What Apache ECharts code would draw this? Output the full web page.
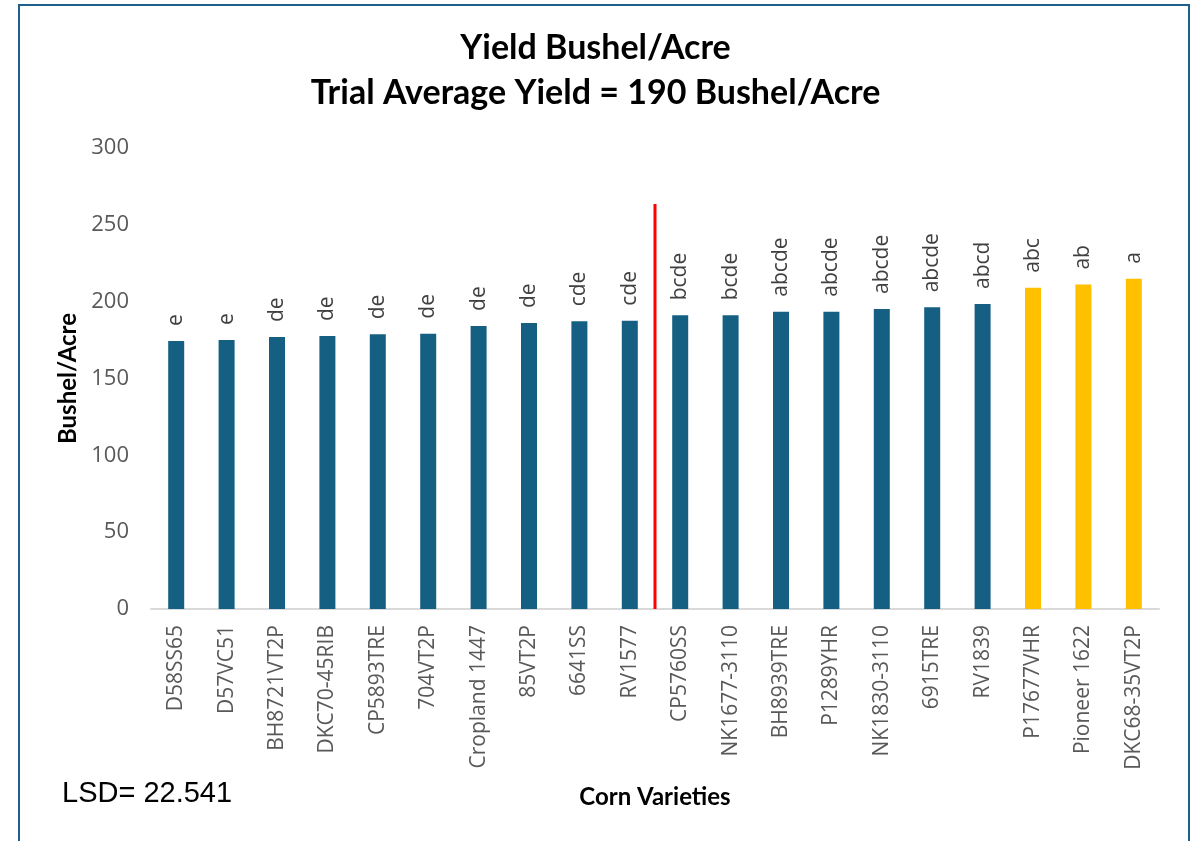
<!DOCTYPE html>
<html>
<head>
<meta charset="utf-8">
<script src="https://cdn.jsdelivr.net/npm/echarts@6/dist/echarts.min.js"></script>
<style>html,body{margin:0;padding:0;background:#fff;}#chart{width:1191px;height:841px;}</style>
</head>
<body>
<div id="chart"></div>
<script>
const categories = ['D58SS65','D57VC51','BH8721VT2P','DKC70-45RIB','CP5893TRE','704VT2P','Cropland 1447','85VT2P','6641SS','RV1577','CP5760SS','NK1677-3110','BH8939TRE','P1289YHR','NK1830-3110','6915TRE','RV1839','P17677VHR','Pioneer 1622','DKC68-35VT2P'];
const yields = [174.4,175.0,177.0,177.6,178.8,179.2,184.2,186.1,187.2,187.6,191.1,191.1,193.5,193.5,195.2,196.3,198.5,209.1,211.1,214.9];
const letters = ['e','e','de','de','de','de','de','de','cde','cde','bcde','bcde','abcde','abcde','abcde','abcde','abcd','abc','ab','a'];
const highlighted = ['P17677VHR','Pioneer 1622','DKC68-35VT2P'];
const separatorLine = [[10,0],[10,263.5]];
const yTicks = {min:0, max:300, interval:50};
const titleLines = ['Yield Bushel/Acre','Trial Average Yield = 190 Bushel/Acre'];
const lsdText = 'LSD= 22.541';

const chart = echarts.init(document.getElementById('chart'));
const font = '"Open Sans", sans-serif';
chart.setOption({
  animation:false,
  backgroundColor:'#fff',
  title:{
    text: titleLines.join('\n'),
    left:'center', top:21,
    textStyle:{fontFamily:'Lato, sans-serif', fontWeight:'bold', fontSize:34, color:'#000', lineHeight:45}
  },
  grid:{left:151, right:32, top:148, bottom:232},
  xAxis:[{
    type:'category', data:categories,
    axisLine:{lineStyle:{color:'#d9d9d9', width:2}},
    axisTick:{show:false},
    axisLabel:{rotate:90, interval:0, margin:16, fontFamily:font, fontSize:21, color:'#595959'},
    name:'Corn Varieties', nameLocation:'middle', nameGap:176,
    nameTextStyle:{fontFamily:'Lato, sans-serif', fontWeight:'bold', fontSize:24, color:'#000'}
  },{
    type:'value', min:0, max:categories.length, show:false
  }],
  yAxis:{
    type:'value', min:yTicks.min, max:yTicks.max, interval:yTicks.interval,
    splitLine:{show:false}, axisLine:{show:false}, axisTick:{show:false},
    axisLabel:{fontFamily:font, fontSize:22, color:'#595959', margin:22},
    name:'Bushel/Acre', nameLocation:'middle', nameRotate:90, nameGap:67,
    nameTextStyle:{fontFamily:'Lato, sans-serif', fontWeight:'bold', fontSize:24, color:'#000'}
  },
  series:[{
    type:'bar', xAxisIndex:0, barWidth:16,
    data: yields.map((v,i)=>({value:v, itemStyle:{color: highlighted.includes(categories[i]) ? '#FFC000' : '#156082'}})),
    label:{show:true, position:'top', rotate:90, align:'left', verticalAlign:'middle', distance:15,
      formatter:p=>letters[p.dataIndex], fontFamily:font, fontSize:21, color:'#404040'}
  },{
    type:'line', xAxisIndex:1, data:separatorLine, symbol:'none',
    lineStyle:{color:'#FF0000', width:3}, z:5
  }],
  graphic:[
    {type:'rect', shape:{x:19, y:5, width:1170, height:850}, style:{fill:'none', stroke:'#1F5F8B', lineWidth:2}},
    {type:'text', left:62, top:779, style:{text:lsdText, font:'29px "Liberation Sans", Arial, sans-serif', fill:'#000'}}
  ]
});
</script>
</body>
</html>
